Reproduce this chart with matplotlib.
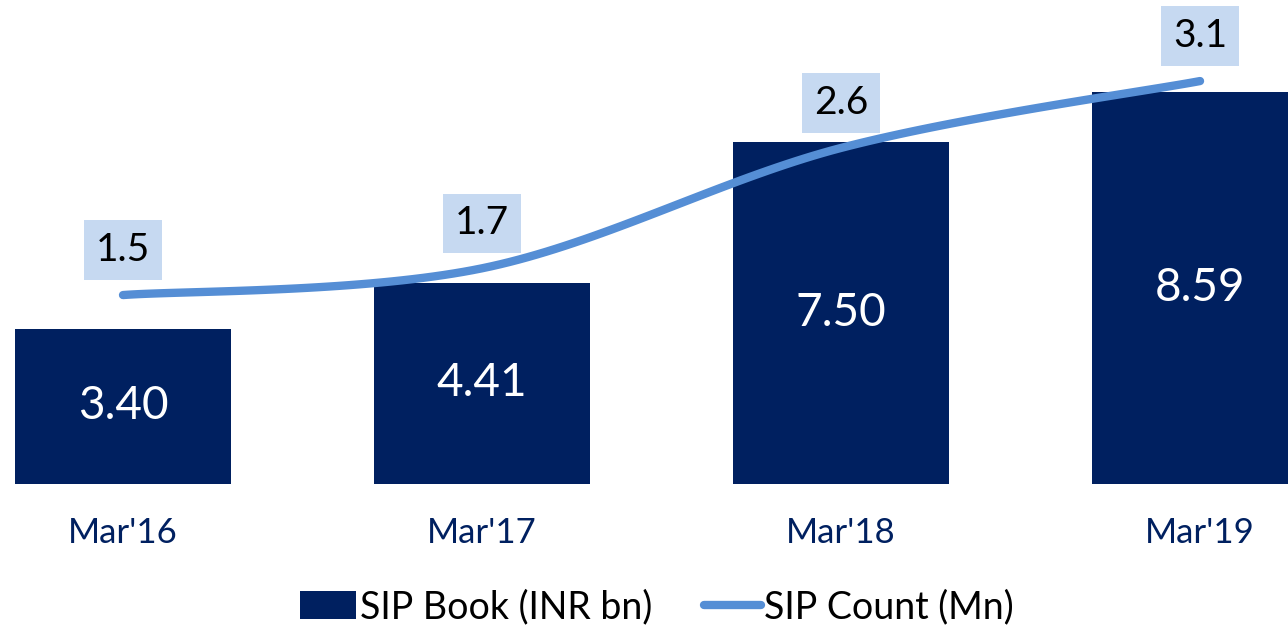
import numpy as np
import matplotlib.pyplot as plt

periods = ["Mar'16", "Mar'17", "Mar'18", "Mar'19"]
sip_book = [3.40, 4.41, 7.50, 8.59]
sip_count = [1.5, 1.7, 2.6, 3.1]

navy = '#002060'
line_blue = '#558ed5'
box_blue = '#c6d9f1'

plt.rcParams['font.family'] = ['Lato', 'DejaVu Sans']


def smooth(xs, ys, n=40):
    # excel-like smoothed line (cardinal bezier between points)
    xs = np.asarray(xs, float)
    ys = np.asarray(ys, float)
    px = np.concatenate([[xs[0]], xs, [xs[-1]]])
    py = np.concatenate([[ys[0]], ys, [ys[-1]]])
    out_x, out_y = [], []
    t = np.linspace(0, 1, n)
    for i in range(1, len(px) - 2):
        p0 = np.array([px[i], py[i]])
        p3 = np.array([px[i + 1], py[i + 1]])
        p1 = p0 + (p3 - np.array([px[i - 1], py[i - 1]])) / 6
        p2 = p3 - (np.array([px[i + 2], py[i + 2]]) - p0) / 6
        b = ((1 - t) ** 3)[:, None] * p0 + (3 * (1 - t) ** 2 * t)[:, None] * p1 \
            + (3 * (1 - t) * t ** 2)[:, None] * p2 + (t ** 3)[:, None] * p3
        out_x.extend(b[:, 0])
        out_y.extend(b[:, 1])
    return out_x, out_y


fig = plt.figure(figsize=(12.88, 6.27), dpi=100)
ax = fig.add_axes([0, 0.228, 1, 0.772])
x = np.arange(len(periods))

bars = ax.bar(x, sip_book, width=0.6, color=navy, label='SIP Book (INR bn)')
for xi, v in zip(x, sip_book):
    ax.text(xi, v / 2, f'{v:.2f}', ha='center', va='center', color='white', fontsize=33)

ax.set_xlim(-0.3426, 3.245)
ax.set_ylim(0, 10.61)
ax.set_yticks([])
ax.set_xticks(x)
ax.set_xticklabels(periods, fontsize=25, color=navy)
ax.tick_params(axis='x', length=0, pad=24)
for s in ax.spines.values():
    s.set_visible(False)

ax2 = ax.twinx()
sx, sy = smooth(x, sip_count)
ax2.plot(sx, sy, color=line_blue, linewidth=6, solid_capstyle='round', label='SIP Count (Mn)')
ax2.set_ylim(0.087, 3.706)
ax2.set_yticks([])
for s in ax2.spines.values():
    s.set_visible(False)

for xi, v in zip(x, sip_count):
    ax2.annotate(f'{v:.1f}', (xi, v), xytext=(0, 45), textcoords='offset pixels',
                 ha='center', va='center', fontsize=28, color='black',
                 bbox=dict(boxstyle='square,pad=0.3', fc=box_blue, ec='none'))

h1, l1 = ax.get_legend_handles_labels()
h2, l2 = ax2.get_legend_handles_labels()
fig.legend(h1 + h2, l1 + l2, loc='center', bbox_to_anchor=(0.51, 0.032), ncol=2,
           frameon=False, fontsize=27, handlelength=1.5, handleheight=0.75,
           handletextpad=0.1, columnspacing=1.4, borderpad=0)

plt.savefig('out.png', dpi=100)
